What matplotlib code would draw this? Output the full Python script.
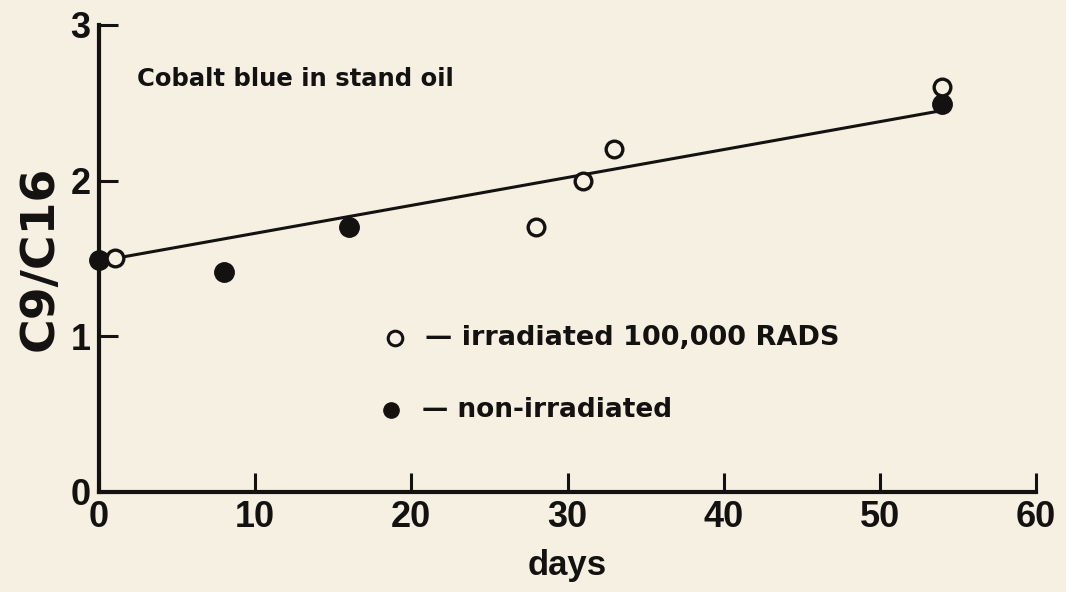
import matplotlib
matplotlib.use("Agg")
import matplotlib.pyplot as plt

# C9/C16 ratio vs. days, cobalt blue in stand oil
irr_days = [1, 28, 31, 33, 54]
irr_ratio = [1.5, 1.7, 2.0, 2.2, 2.6]

non_days = [0, 8, 16, 54]
non_ratio = [1.49, 1.41, 1.70, 2.49]

fit_days = [1, 54]
fit_ratio = [1.5, 2.45]

x_ticks = [0, 10, 20, 30, 40, 50, 60]
y_ticks = [0, 1, 2, 3]

bg = "#f6f0e3"
ink = "#141210"
wide = ['DejaVu Sans']

plt.rcParams['font.family'] = ['Liberation Sans', 'DejaVu Sans']
plt.rcParams['font.weight'] = 'bold'

fig = plt.figure(figsize=(10.66, 5.92), dpi=100, facecolor=bg)
ax = fig.add_axes([0.0929, 0.169, 0.879, 0.789])
ax.set_facecolor(bg)

ax.plot(fit_days, fit_ratio, color=ink, lw=2.2, zorder=2)
ax.plot(non_days, non_ratio, 'o', color=ink, ms=14, mec=ink, clip_on=False, zorder=3)
ax.plot(irr_days, irr_ratio, 'o', mfc=bg, mec=ink, mew=2.4, ms=12, clip_on=False, zorder=4)

ax.set_xlim(0, 60)
ax.set_ylim(0, 3)
ax.set_xticks(x_ticks)
ax.set_yticks(y_ticks)

for s in ['top', 'right']:
    ax.spines[s].set_visible(False)
for s in ['left', 'bottom']:
    ax.spines[s].set_linewidth(3)
    ax.spines[s].set_color(ink)

ax.tick_params(axis='both', direction='in', length=14, width=2.2, colors=ink,
               labelsize=26)
ax.tick_params(axis='x', pad=6)
ax.tick_params(axis='y', pad=6)

ax.set_xlabel("days", fontsize=25, fontweight='bold', color=ink, labelpad=10)
ax.set_ylabel("C9/C16", fontsize=34, fontweight='bold', color=ink, labelpad=6,
              family=wide)

ax.text(0.04, 0.885, "Cobalt blue in stand oil", transform=ax.transAxes,
        fontsize=17.5, fontweight='bold', color=ink, va='center', family=wide)

# legend drawn by hand
ax.plot([0.316], [0.33], 'o', mfc=bg, mec=ink, mew=2.2, ms=10.5, transform=ax.transAxes)
ax.text(0.348, 0.33, "— irradiated 100,000 RADS", transform=ax.transAxes,
        fontsize=19.5, fontweight='bold', color=ink, va='center', family=wide)
ax.plot([0.312], [0.176], 'o', color=ink, ms=11, transform=ax.transAxes)
ax.text(0.345, 0.176, "— non-irradiated", transform=ax.transAxes,
        fontsize=19, fontweight='bold', color=ink, va='center', family=wide)

fig.savefig("out.png", dpi=100, facecolor=bg)
